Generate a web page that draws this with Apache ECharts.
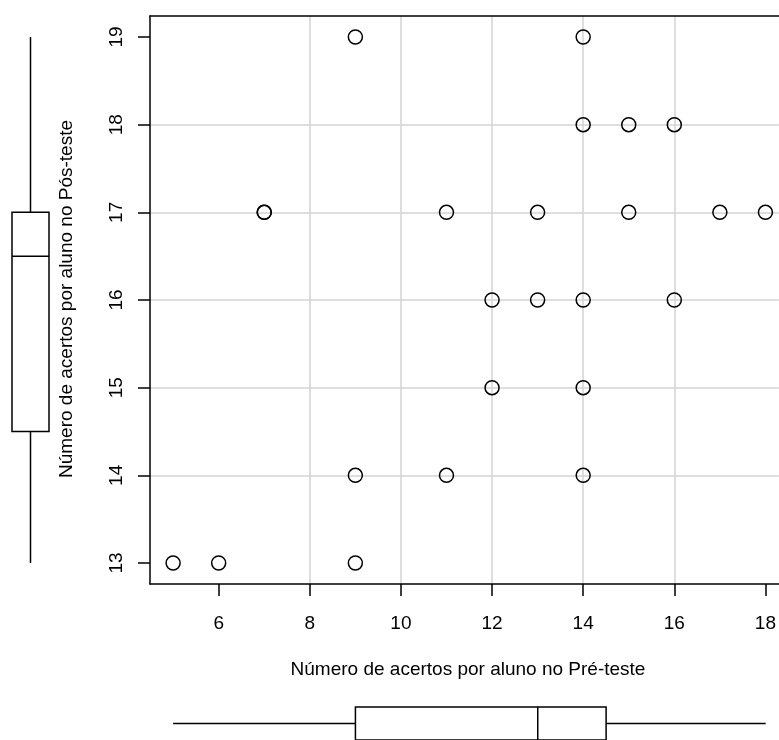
<!DOCTYPE html>
<html>
<head>
<meta charset="utf-8">
<script src="https://cdn.jsdelivr.net/npm/echarts@6/dist/echarts.min.js"></script>
<style>
html,body{margin:0;padding:0;background:#fff;}
#chart{width:779px;height:740px;}
</style>
</head>
<body>
<div id="chart"></div>
<script>
// Data
var preScores  = [5, 6, 9, 9, 11, 14, 12, 14, 12, 13, 14, 16, 7, 7, 11, 13, 15, 17, 18, 14, 15, 16, 9, 14];
var postScores = [13, 13, 13, 14, 14, 14, 15, 15, 16, 16, 16, 16, 17, 17, 17, 17, 17, 17, 17, 18, 18, 18, 19, 19];
var xTicks = [6, 8, 10, 12, 14, 16, 18];
var yTicks = [13, 14, 15, 16, 17, 18, 19];
// five-number summaries (min, Q1, median, Q3, max)
var preBox  = [5, 9, 13, 14.5, 18];
var postBox = [13, 14.5, 16.5, 17, 19];
var xTitle = 'Número de acertos por aluno no Pré-teste';
var yTitle = 'Número de acertos por aluno no Pós-teste';

var points = preScores.map(function (v, i) { return [v, postScores[i]]; });
var xRange = [4.493, 18.293];
var yRange = [12.76, 19.24];
var FONT = 'Liberation Sans, Arial, sans-serif';

var chart = echarts.init(document.getElementById('chart'), null, {renderer: 'canvas'});

function boxRender(vertical, stats) {
  return function (params, api) {
    var lineStyle = {stroke: '#000', lineWidth: 1.5, fill: null};
    function P(v, c) { return vertical ? api.coord([c, v]) : api.coord([v, c]); }
    var q1a = P(stats[1], 0), q3b = P(stats[3], 1);
    var x0 = Math.min(q1a[0], q3b[0]), y0 = Math.min(q1a[1], q3b[1]);
    var w = Math.abs(q3b[0] - q1a[0]), h = Math.abs(q3b[1] - q1a[1]);
    function seg(a, b) {
      return {type: 'line', shape: {x1: a[0], y1: a[1], x2: b[0], y2: b[1]}, style: lineStyle};
    }
    return {
      type: 'group',
      children: [
        {type: 'rect', shape: {x: x0, y: y0, width: w, height: h}, style: {stroke: '#000', lineWidth: 1.5, fill: '#fff'}},
        seg(P(stats[2], 0), P(stats[2], 1)),
        seg(P(stats[0], 0.5), P(stats[1], 0.5)),
        seg(P(stats[3], 0.5), P(stats[4], 0.5))
      ]
    };
  };
}

var axisLineStyle = {show: true, onZero: false, lineStyle: {color: '#000', width: 1.5}};

var option = {
  animation: false,
  backgroundColor: '#fff',
  grid: [
    {left: 150, top: 16, width: 629, height: 568},
    {left: 12, top: 16, width: 37, height: 568},
    {left: 150, top: 707, width: 629, height: 42}
  ],
  xAxis: [
    {
      gridIndex: 0, type: 'value', min: xRange[0], max: xRange[1], position: 'bottom',
      axisLine: axisLineStyle,
      axisTick: {show: true, length: 12, customValues: xTicks, lineStyle: {color: '#000', width: 1.5}},
      axisLabel: {show: true, customValues: xTicks, fontSize: 19, fontFamily: FONT, color: '#000', margin: 30},
      splitLine: {show: true, showMinLine: false, showMaxLine: false, lineStyle: {color: '#d3d3d3', width: 1.5}}
    },
    {gridIndex: 1, type: 'value', min: 0, max: 1, show: false},
    {gridIndex: 2, type: 'value', min: xRange[0], max: xRange[1], show: false},
    {
      gridIndex: 0, type: 'value', min: xRange[0], max: xRange[1], position: 'top',
      axisLine: axisLineStyle, axisTick: {show: false}, axisLabel: {show: false}, splitLine: {show: false}
    }
  ],
  yAxis: [
    {
      gridIndex: 0, type: 'value', min: yRange[0], max: yRange[1], position: 'left',
      axisLine: axisLineStyle,
      axisTick: {show: true, length: 12, customValues: yTicks, lineStyle: {color: '#000', width: 1.5}},
      axisLabel: {show: true, customValues: yTicks, rotate: 90, fontSize: 19, fontFamily: FONT, color: '#000', margin: 24},
      splitLine: {show: true, showMinLine: false, showMaxLine: false, lineStyle: {color: '#d3d3d3', width: 1.5}}
    },
    {gridIndex: 1, type: 'value', min: yRange[0], max: yRange[1], show: false},
    {gridIndex: 2, type: 'value', min: 0, max: 1, show: false}
  ],
  series: [
    {
      type: 'scatter', xAxisIndex: 0, yAxisIndex: 0, data: points,
      symbol: 'circle', symbolSize: 14,
      itemStyle: {color: 'rgba(255,255,255,0)', borderColor: '#000', borderWidth: 1.5, opacity: 1},
      emphasis: {disabled: true}, z: 5
    },
    {
      type: 'custom', xAxisIndex: 1, yAxisIndex: 1, data: [[0]], clip: false,
      renderItem: boxRender(true, postBox)
    },
    {
      type: 'custom', xAxisIndex: 2, yAxisIndex: 2, data: [[0]], clip: false,
      renderItem: boxRender(false, preBox)
    }
  ],
  graphic: [
    {type: 'text', x: 468, y: 670, style: {text: xTitle, font: '19px ' + FONT, fill: '#000', align: 'center', verticalAlign: 'middle'}},
    {type: 'text', x: 67, y: 299, rotation: Math.PI / 2, style: {text: yTitle, font: '19px ' + FONT, fill: '#000', align: 'center', verticalAlign: 'middle'}}
  ]
};
chart.setOption(option);
</script>
</body>
</html>
